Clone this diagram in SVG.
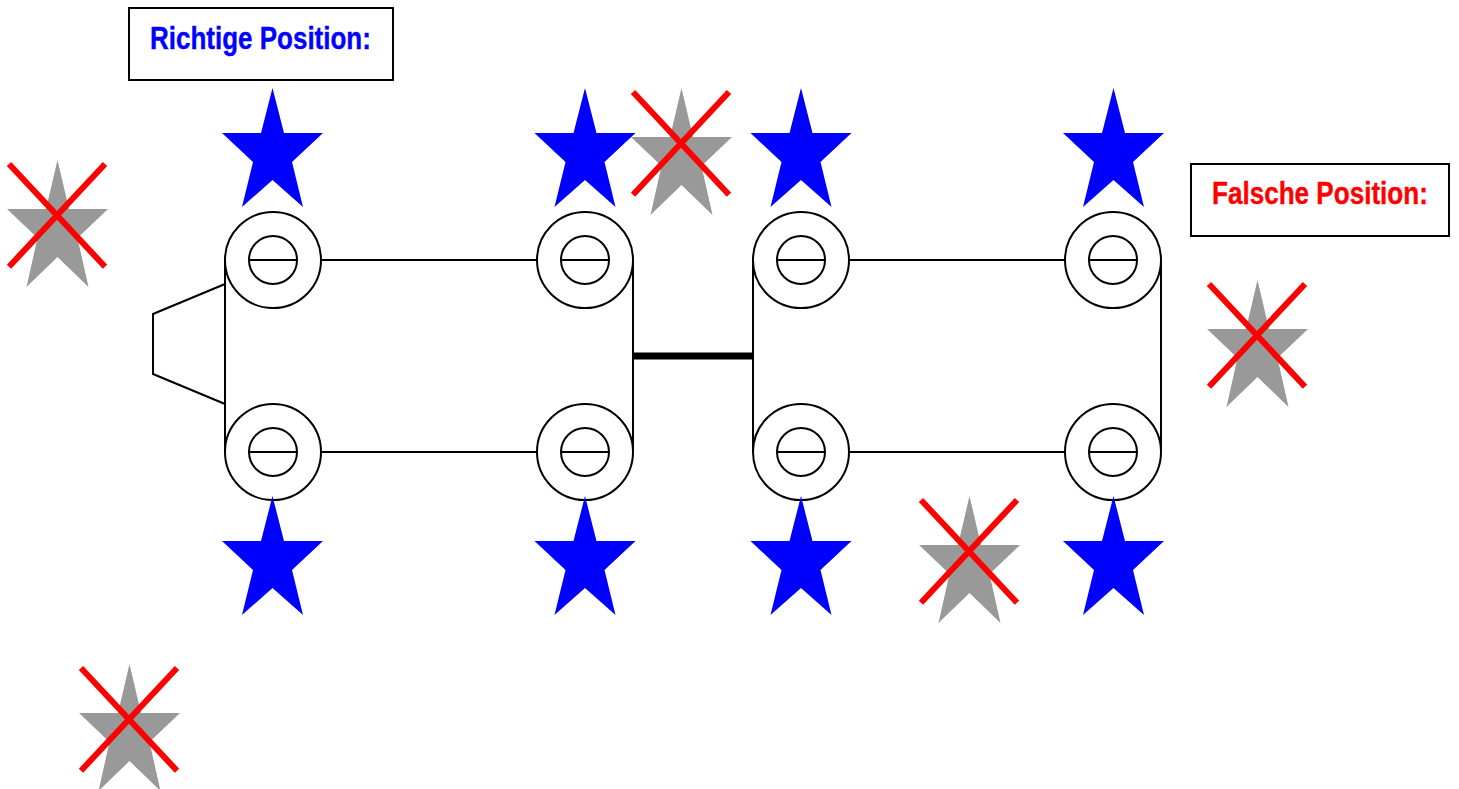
<svg xmlns="http://www.w3.org/2000/svg" xmlns:xlink="http://www.w3.org/1999/xlink" width="1459" height="789" viewBox="0 0 1459 789">
<style>
.ln{fill:none;stroke:#000;stroke-width:2}
.w{fill:#fff;stroke:#000;stroke-width:2}
.lbl{font-family:"Liberation Sans",Arial,sans-serif;font-weight:bold;font-size:32px;stroke-width:.4px}
.x{stroke:#f00;stroke-width:6;fill:none}
</style>
<defs>
<polygon id="star" points="0,0 11.5,45 50.5,45 19.5,74 30.5,119 0,92 -30.500,119 -19.500,74 -50.500,45 -11.500,45"/>
<polygon id="gstar" fill="#999" points="0.500,0 12,49 51,49 20.500,78 31.500,127 0.500,97 -30.500,127 -19.500,78 -50,49 -11,49"/>
<g id="wheel"><circle class="ln" r="48"/><circle class="ln" r="24"/><path class="ln" d="M-24 0H24"/></g>
<g id="bad"><use href="#gstar"/><path class="x" d="M-48 4L48 106.700M48 4L-48 106.700"/></g>
</defs>
<rect width="1459" height="789" fill="#fff"/>
<g id="connectors">
<path class="ln" d="M321 260H537M321 452H537M849 260H1065M849 452H1065"/>
<path class="ln" d="M225 260V452M633 260V452M753 260V452M1161 260V452"/>
<path class="ln" d="M225 284L153 314V374L225 404"/>
<path d="M633 356H753" fill="none" stroke="#000" stroke-width="7"/>
</g>
<g id="w1"><use href="#wheel" x="273" y="260"/></g>
<g id="w2"><use href="#wheel" x="585" y="260"/></g>
<g id="w3"><use href="#wheel" x="801" y="260"/></g>
<g id="w4"><use href="#wheel" x="1113" y="260"/></g>
<g id="w5"><use href="#wheel" x="273" y="452"/></g>
<g id="w6"><use href="#wheel" x="585" y="452"/></g>
<g id="w7"><use href="#wheel" x="801" y="452"/></g>
<g id="w8"><use href="#wheel" x="1113" y="452"/></g>
<g id="good" fill="#00f">
<use href="#star" x="272.500" y="88"/><use href="#star" x="585" y="88"/><use href="#star" x="801" y="88"/><use href="#star" x="1113.500" y="88"/>
<use href="#star" x="272.500" y="496"/><use href="#star" x="585" y="496"/><use href="#star" x="801" y="496"/><use href="#star" x="1113.500" y="496"/>
</g>
<g id="wrong">
<use href="#bad" x="57" y="160"/><use href="#bad" x="681" y="88"/><use href="#bad" x="1257" y="280"/><use href="#bad" x="969" y="496"/><use href="#bad" x="129" y="664"/>
</g>
<g id="richtig"><rect class="w" x="129" y="8" width="264" height="72"/><text class="lbl" transform="translate(150 49) scale(.8125 1)" fill="#00f" stroke="#00f">Richtige Position:</text></g>
<g id="falsch"><rect class="w" x="1191" y="164" width="258" height="72"/><text class="lbl" transform="translate(1212 204) scale(.815 1)" fill="#f00" stroke="#f00">Falsche Position:</text></g>
</svg>
